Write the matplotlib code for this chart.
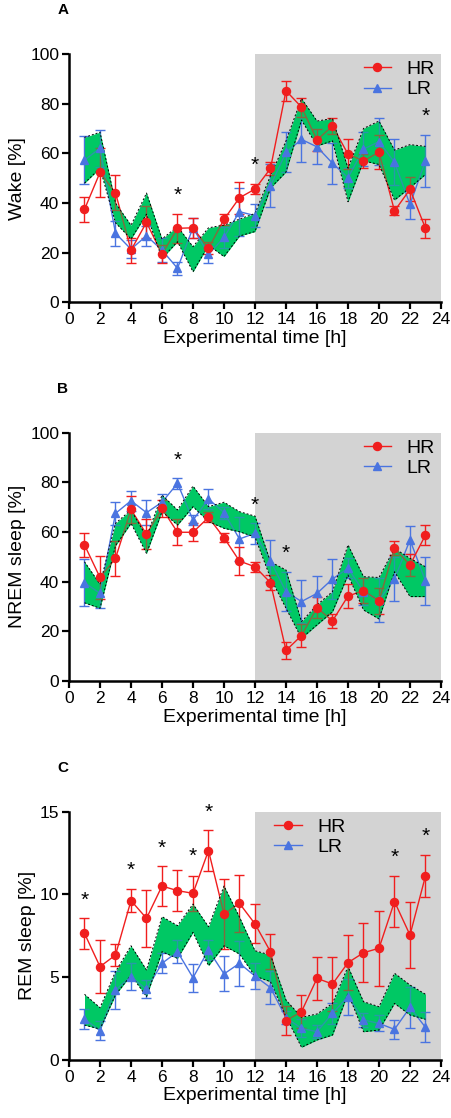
import numpy as np
import matplotlib
matplotlib.use("Agg")
import matplotlib.pyplot as plt
from matplotlib.lines import Line2D

plt.rcParams.update({
    'font.family': ['Liberation Sans', 'DejaVu Sans'],
})

hours = np.arange(1, 24)

# ---------------- A: Wake ----------------
wake_hr = [37.4, 52.3, 44.1, 21.0, 32.2, 19.4, 29.8, 30.0, 21.7, 33.4, 42.1, 45.6,
           53.9, 85.2, 78.6, 65.4, 71.0, 59.7, 56.9, 60.5, 36.8, 45.5, 29.8]
wake_hr_err = [5.2, 10.0, 7.0, 5.0, 6.4, 3.7, 5.9, 4.0, 2.4, 2.3, 6.5, 1.9,
               2.8, 4.0, 3.8, 4.4, 3.4, 5.9, 3.0, 6.8, 1.8, 4.9, 3.9]
wake_lr = [57.3, 62.0, 27.8, 21.4, 26.8, 21.0, 13.7, 30.0, 19.3, 26.1, 36.5, 34.9,
           47.0, 60.4, 65.6, 62.6, 56.0, 50.2, 61.7, 64.7, 56.4, 39.4, 57.0]
wake_lr_err = [9.7, 7.5, 5.0, 3.5, 4.0, 4.7, 2.7, 4.0, 3.3, 4.4, 9.6, 4.7,
               8.7, 8.0, 9.0, 7.0, 8.2, 4.0, 6.7, 9.6, 9.3, 5.7, 10.4]
wake_band_hi = [66.4, 68.5, 40.0, 31.0, 44.0, 25.5, 30.5, 22.4, 30.0, 31.1, 33.5, 35.8,
                51.0, 65.0, 82.1, 73.0, 74.0, 54.0, 70.0, 73.0, 61.3, 63.5, 62.8]
wake_band_lo = [48.0, 54.0, 32.0, 25.5, 35.5, 17.7, 24.4, 12.3, 23.0, 18.4, 26.7, 28.5,
                46.0, 52.5, 73.4, 63.0, 65.0, 40.5, 57.0, 55.5, 41.2, 46.2, 51.5]
wake_stars = {7: 43.2, 12: 55.3, 23: 75.0}

# ---------------- B: NREM ----------------
nrem_hr = [54.8, 41.7, 49.4, 69.1, 59.1, 69.5, 59.9, 59.9, 65.9, 57.7, 48.3, 46.0,
           39.6, 12.3, 18.3, 29.5, 24.2, 34.2, 36.4, 32.3, 53.4, 46.7, 58.8]
nrem_hr_err = [5.0, 8.6, 7.0, 5.3, 6.0, 3.4, 5.2, 3.7, 2.0, 1.8, 5.7, 2.0,
               3.0, 3.4, 4.5, 4.3, 2.7, 5.0, 5.0, 5.2, 2.8, 4.3, 4.0]
nrem_lr = [39.6, 35.3, 67.5, 72.6, 67.8, 72.0, 79.6, 64.8, 73.3, 67.8, 57.2, 59.5,
           48.3, 36.0, 32.0, 35.3, 41.1, 45.4, 36.0, 32.6, 41.1, 56.8, 40.3]
nrem_lr_err = [9.4, 6.0, 4.7, 4.0, 5.0, 3.5, 2.3, 2.0, 4.0, 2.4, 8.7, 4.2,
               8.4, 7.7, 8.7, 6.8, 8.0, 4.0, 5.5, 8.7, 8.9, 5.8, 9.5]
nrem_band_hi = [48.0, 39.0, 63.5, 68.9, 58.1, 74.9, 68.9, 78.5, 70.2, 72.0, 68.2, 66.4,
                48.0, 44.7, 23.9, 30.6, 36.0, 54.8, 42.0, 41.7, 53.4, 49.4, 46.0]
nrem_band_lo = [31.5, 29.3, 54.5, 63.5, 51.4, 68.2, 62.8, 70.2, 64.2, 61.5, 60.1, 58.0,
                41.5, 29.3, 17.2, 22.6, 27.9, 42.7, 28.6, 25.0, 44.0, 34.0, 34.0]
nrem_stars = {7: 89.0, 12: 70.9, 14: 51.4}

# ---------------- C: REM ----------------
rem_hr = [7.65, 5.64, 6.34, 9.63, 8.56, 10.51, 10.23, 10.07, 12.65, 8.82, 9.46, 8.22,
          6.54, 2.38, 2.92, 4.93, 4.59, 5.88, 6.48, 6.75, 9.57, 7.55, 11.12]
rem_hr_err = [0.93, 1.6, 0.65, 0.7, 1.73, 1.2, 1.24, 1.07, 1.24, 2.1, 1.7, 1.18,
              1.06, 0.86, 1.0, 1.3, 1.66, 1.66, 1.78, 2.25, 1.56, 2.0, 1.28]
rem_lr = [2.48, 1.77, 4.23, 5.03, 4.27, 5.84, 6.54, 4.97, 6.65, 5.2, 5.84, 5.07,
          4.37, 2.55, 1.91, 1.71, 2.82, 3.83, 2.42, 2.21, 1.85, 3.18, 1.97]
rem_lr_err = [0.62, 0.57, 1.13, 0.82, 0.55, 0.6, 0.68, 0.84, 0.6, 1.06, 1.36, 0.8,
              0.98, 0.4, 0.55, 0.4, 0.65, 1.09, 0.43, 0.48, 0.57, 1.24, 0.9]
rem_band_hi = [3.97, 3.16, 5.34, 6.9, 5.44, 8.66, 8.12, 9.42, 8.05, 10.51, 8.63, 6.6,
               6.34, 3.62, 2.58, 2.78, 3.42, 5.64, 3.52, 3.22, 5.24, 4.53, 3.97]
rem_band_lo = [2.11, 1.87, 3.93, 5.13, 3.83, 6.54, 6.14, 7.71, 5.7, 6.9, 6.4, 5.07,
               4.73, 2.62, 0.77, 1.21, 1.51, 4.03, 1.71, 1.81, 3.42, 2.72, 2.46]
rem_stars = {1: 9.67, 4: 11.48, 6: 12.79, 8: 12.32, 9: 14.96, 21: 12.24, 23: 13.49}

red = '#f01e1e'
blue = '#4a74e0'
green = '#00c864'
gray = '#d3d3d3'

panels = [
    ('A', 'Wake [%]', wake_hr, wake_hr_err, wake_lr, wake_lr_err,
     wake_band_hi, wake_band_lo, wake_stars, 100, 20, 54),
    ('B', 'NREM sleep [%]', nrem_hr, nrem_hr_err, nrem_lr, nrem_lr_err,
     nrem_band_hi, nrem_band_lo, nrem_stars, 100, 20, 432.7),
    ('C', 'REM sleep [%]', rem_hr, rem_hr_err, rem_lr, rem_lr_err,
     rem_band_hi, rem_band_lo, rem_stars, 15, 5, 811.7),
]

W, H = 452, 1118
fig = plt.figure(figsize=(W / 100, H / 100), dpi=100)

for label, ylab, hr, hr_e, lr, lr_e, b_hi, b_lo, stars, ymax, ystep, top in panels:
    ax = fig.add_axes([69 / W, 1 - (top + 248.3) / H, 372 / W, 248.3 / H])
    ax.axvspan(12, 24, color=gray, lw=0, zorder=0)

    # band: solid under the lines, translucent over them
    ax.fill_between(hours, b_lo, b_hi, color=green, lw=0, zorder=1)
    ax.plot(hours, b_hi, ls=(0, (2, 2)), color='black', lw=0.7, zorder=3.5)
    ax.plot(hours, b_lo, ls=(0, (2, 2)), color='black', lw=0.7, zorder=3.5)

    ax.errorbar(hours, lr, yerr=lr_e, color=blue, lw=1.0, capsize=3.5,
                capthick=1.0, elinewidth=1.0, zorder=2)
    ax.errorbar(hours, hr, yerr=hr_e, color=red, lw=1.0, capsize=3.5,
                capthick=1.0, elinewidth=1.0, zorder=2)
    ax.fill_between(hours, b_lo, b_hi, color=green, alpha=0.45, lw=0, zorder=3)

    ax.plot(hours, lr, ls='none', marker='^', ms=5.5, color=blue, zorder=4)
    ax.plot(hours, hr, ls='none', marker='o', ms=5.8, color=red, zorder=4)

    for h, yv in stars.items():
        ax.text(h, yv, '*', ha='center', va='center', fontsize=15, zorder=5)

    ax.set_xlim(0, 24)
    ax.set_ylim(0, ymax)
    ax.set_xticks(np.arange(0, 25, 2))
    ax.set_yticks(np.arange(0, ymax + 0.1, ystep))
    for s in ['top', 'right']:
        ax.spines[s].set_visible(False)
    for s in ['left', 'bottom']:
        ax.spines[s].set_linewidth(1.8)
    ax.tick_params(direction='out', length=5, width=1.6, labelsize=12.5, pad=2)
    ax.set_xlabel('Experimental time [h]', fontsize=14, labelpad=2)
    ax.set_ylabel(ylab, fontsize=14, labelpad=3)

    handles = [Line2D([], [], color=red, marker='o', ms=5.8, lw=1.0),
               Line2D([], [], color=blue, marker='^', ms=5.5, lw=1.0)]
    if label == 'C':
        ax.legend(handles, ['HR', 'LR'], loc='upper left', bbox_to_anchor=(0.505, 1.045),
                  frameon=False, fontsize=14, handlelength=1.4, handletextpad=0.8,
                  labelspacing=0.15)
    else:
        ax.legend(handles, ['HR', 'LR'], loc='upper right', bbox_to_anchor=(1.03, 1.045),
                  frameon=False, fontsize=14, handlelength=1.4, handletextpad=0.8,
                  labelspacing=0.15)

    fig.text(63 / W, 1 - (top - 44) / H, label, fontsize=11, fontweight='bold',
             ha='center', va='center')

fig.savefig('out.png', dpi=100)
